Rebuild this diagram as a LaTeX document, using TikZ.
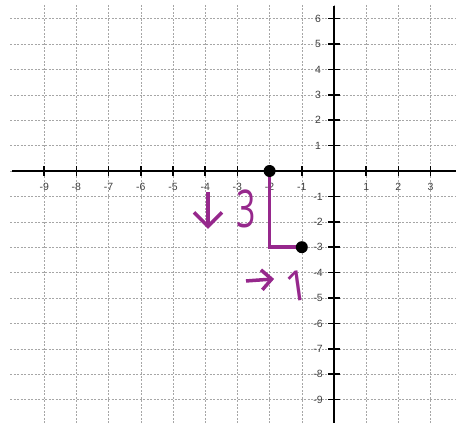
\documentclass[tikz,border=0pt]{standalone}
\usepackage{graphicx}
\usepackage{fontspec}
\setmainfont{Liberation Sans}
\newfontfamily\handfont{Open Sans}
\usetikzlibrary{arrows.meta}
\definecolor{ink}{RGB}{150,40,140}

\begin{document}
\begin{tikzpicture}[x=32.2pt,y=25.4pt,
    gridline/.style={gray!70, line width=0.5pt, dash pattern=on 2pt off 1.5pt},
    axis/.style={line width=2.6pt},
    tick/.style={line width=1.6pt},
    lbl/.style={inner sep=0pt, text=black!75, font=\fontsize{10.5}{10.5}\selectfont},
    dot/.style={circle, fill=black, inner sep=0pt, minimum size=12pt},
    pen/.style={ink, line width=3.5pt},
    scribble/.style={ink, inner sep=0pt}]
  \useasboundingbox (-10.373,6.732) rectangle (3.789,-9.921);
  % Dashed grid of the graph paper
  \foreach \y in {-9,...,6} {
    \draw [gridline] (-10.06,\y) -- (3.789,\y);
  }
  \foreach \x in {-9,...,3} {
    \draw [gridline] (\x,6.54) -- (\x,-9.921);
  }
  % The two axes
  \draw [axis] (-10,0) -- (3.789,0);
  \draw [axis] (0,6.5) -- (0,-9.921);
  % Ticks and labels on the x axis
  \foreach \x [count=\i] in {-9,...,-1,1,2,3} {
    \draw [tick] ([yshift=-5pt]\x,0) -- ([yshift=5pt]\x,0);
    \node [lbl] (xl\i) at ([yshift=-16pt]\x,0) {\x};
  }
  % Ticks and labels on the y axis
  \foreach \y [count=\i] in {-9,...,-1,1,2,...,6} {
    \draw [tick] ([xshift=-6pt]0,\y) -- ([xshift=6pt]0,\y);
    \node [lbl] (yl\i) at ([xshift=-16pt]0,\y) {\y};
  }
  % The move: down 3, right 1
  \coordinate (start) at (-2,0);
  \coordinate (turn) at (-2,-3);
  \coordinate (stop) at (-1,-3);
  \draw [pen] (start) -- (turn) -- (stop);
  \node [dot] (A) at (start) {};
  \node [dot] (B) at (stop) {};
  % Handwritten notes
  \coordinate (downtop) at (-3.913,-0.83);
  \coordinate (downtip) at (-3.913,-2.28);
  \draw [pen, -{Straight Barb[length=14pt,width=28pt]}] (downtop) -- (downtip);
  \node [scribble, font=\handfont\fontsize{52}{52}\selectfont] (three) at (-2.733,-1.496) {\scalebox{0.65}[1]{3}};
  \coordinate (righttail) at (-2.733,-4.33);
  \coordinate (righttip) at (-1.86,-4.25);
  \draw [pen, -{Straight Barb[length=10pt,width=20pt]}] (righttail) -- (righttip);
  \node [scribble, font=\handfont\fontsize{42}{42}\selectfont, rotate=8] (one) at (-1.149,-4.508) {1};
\end{tikzpicture}
\end{document}
